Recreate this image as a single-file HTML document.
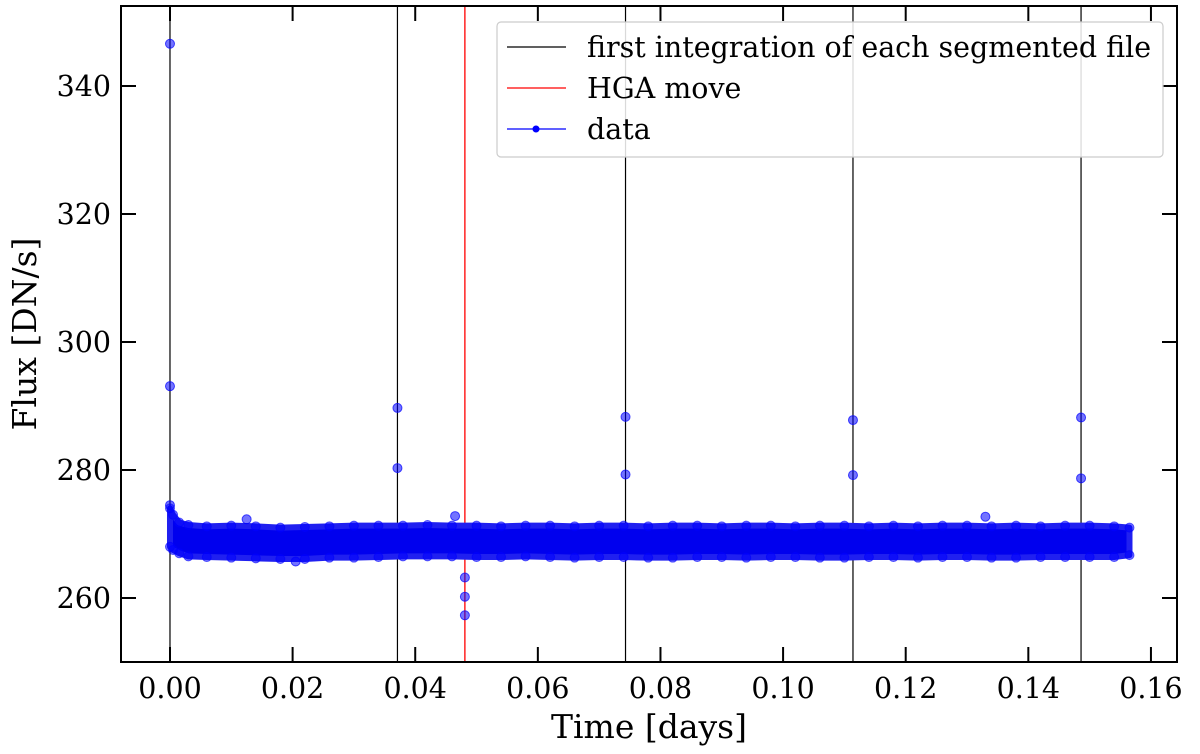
<!DOCTYPE html>
<html><head><meta charset="utf-8"><style>
html,body{margin:0;padding:0;background:#fff;}
svg{display:block;font-family:"DejaVu Serif","Liberation Serif",serif;}
</style></head><body>
<svg id="chart" width="1200" height="754" viewBox="0 0 1200 754">
<g id="plot"></g>
</svg>
<script>
const segTimes = [0.0, 0.0371, 0.0743, 0.1114, 0.1486];
const hgaTime = [0.0481];
const outT = [0.0,0.0,0.0,0.0371,0.0371,0.0743,0.0743,0.1114,0.1114,0.1486,0.1486,0.0481,0.0481,0.0481,0.0205,0.0465,0.133,0.0125];
const outF = [346.6,293.1,274.5,289.7,280.3,288.3,279.3,287.8,279.2,288.2,278.7,263.2,260.2,257.3,265.7,272.8,272.7,272.3];
const bandT = [0.0,0.0005,0.0015,0.003,0.006,0.01,0.014,0.018,0.022,0.026,0.03,0.034,0.038,0.042,0.046,0.05,0.054,0.058,0.062,0.066,0.07,0.074,0.078,0.082,0.086,0.09,0.094,0.098,0.102,0.106,0.11,0.114,0.118,0.122,0.126,0.13,0.134,0.138,0.142,0.146,0.15,0.154,0.1565];
const bandHi = [274.0,273.0,271.8,271.4,271.2,271.3,271.2,271.0,271.1,271.2,271.3,271.3,271.3,271.4,271.3,271.3,271.2,271.3,271.3,271.2,271.3,271.3,271.2,271.3,271.3,271.2,271.3,271.3,271.2,271.3,271.3,271.2,271.3,271.2,271.3,271.3,271.2,271.3,271.2,271.3,271.3,271.2,271.0];
const bandLo = [268.0,267.5,267.0,266.5,266.4,266.3,266.2,266.1,266.1,266.3,266.3,266.4,266.5,266.5,266.5,266.4,266.4,266.5,266.4,266.3,266.4,266.4,266.3,266.3,266.4,266.4,266.3,266.4,266.4,266.3,266.3,266.4,266.4,266.3,266.4,266.4,266.3,266.3,266.4,266.4,266.4,266.4,266.7];
const xTicks = [0.0,0.02,0.04,0.06,0.08,0.10,0.12,0.14,0.16];
const xTickLabels = ["0.00","0.02","0.04","0.06","0.08","0.10","0.12","0.14","0.16"];
const yTicks = [260,280,300,320,340];
const yTickLabels = ["260","280","300","320","340"];

const L=121,R=1177,T=6,B=662;
const x0=-0.00799,x1=0.16425,y0=250,y1=352.5;
const X=t=>L+(t-x0)/(x1-x0)*(R-L);
const Y=f=>B-(f-y0)/(y1-y0)*(B-T);
const NS="http://www.w3.org/2000/svg";
const svg=document.getElementById('chart');
const plot=document.getElementById('plot');
function mk(tag,attrs,parent){const e=document.createElementNS(NS,tag);for(const k in attrs)e.setAttribute(k,attrs[k]);(parent||svg).appendChild(e);return e;}

segTimes.forEach(t=>{const l=mk('line',{x1:X(t),x2:X(t),y1:T,y2:B,stroke:'#000','stroke-width':1.2},plot);

});
hgaTime.forEach(t=>{const l=mk('line',{x1:X(t),x2:X(t),y1:T,y2:B,stroke:'#f00','stroke-width':1.3},plot);

});

let pts=bandT.map((t,i)=>X(t)+','+Y(bandHi[i]));
for(let i=bandT.length-1;i>=0;i--)pts.push(X(bandT[i])+','+Y(bandLo[i]));
const band=mk('polygon',{points:pts.join(' '),fill:'#0000ee',stroke:'#2020f0','stroke-width':6,'stroke-linejoin':'round'},plot);


bandT.forEach((t,i)=>{[bandHi[i],bandLo[i]].forEach(f=>{const c=mk('circle',{cx:X(t),cy:Y(f),r:4.5,fill:'#0000ff','fill-opacity':0.55,stroke:'#0000ff','stroke-opacity':0.6},plot);

});});
outT.forEach((t,i)=>{const c=mk('circle',{cx:X(t),cy:Y(outF[i]),r:4.5,fill:'#0000ff','fill-opacity':0.55,stroke:'#0000ff','stroke-opacity':0.7},plot);

});

const fr=mk('rect',{x:L,y:T,width:R-L,height:B-T,fill:'none',stroke:'#000','stroke-width':2});



xTicks.forEach((t,i)=>{const x=X(t);
mk('line',{x1:x,x2:x,y1:B,y2:B-15,stroke:'#000','stroke-width':2});
mk('line',{x1:x,x2:x,y1:T,y2:T+15,stroke:'#000','stroke-width':2});
const tx=mk('text',{x:x,y:B+36,'text-anchor':'middle','font-size':28.5,fill:'#000'});tx.textContent=xTickLabels[i];

});
yTicks.forEach((f,i)=>{const y=Y(f);
mk('line',{x1:L,x2:L+15,y1:y,y2:y,stroke:'#000','stroke-width':2});
mk('line',{x1:R,x2:R-15,y1:y,y2:y,stroke:'#000','stroke-width':2});
const tx=mk('text',{x:L-10,y:y+10,'text-anchor':'end','font-size':28.5,fill:'#000'});tx.textContent=yTickLabels[i];

});

const xl=mk('text',{x:(L+R)/2,y:738,'text-anchor':'middle','font-size':33,fill:'#000'});xl.textContent='Time [days]';


const yl=mk('text',{x:0,y:0,transform:`translate(36,${(T+B)/2}) rotate(-90)`,'text-anchor':'middle','font-size':33,fill:'#000'});yl.textContent='Flux [DN/s]';



const lg=mk('g',{});


mk('rect',{x:497,y:22,width:666,height:135,rx:4,fill:'#fff','fill-opacity':0.85,stroke:'#ccc','stroke-width':1.2},lg);
const entries=[['first integration of each segmented file','#000',false],['HGA move','#f00',false],['data','#00f',true]];
entries.forEach((e,i)=>{const y=47+i*41;
const g=mk('g',{},lg);


mk('line',{x1:507,x2:566,y1:y,y2:y,stroke:e[1],'stroke-width':1.3},g);
if(e[2])mk('circle',{cx:536,cy:y,r:3.5,fill:'#00f'},g);
const t=mk('text',{x:587,y:y+10,'font-size':28.5,fill:'#000'},g);t.textContent=e[0];});
</script>
</body></html>
